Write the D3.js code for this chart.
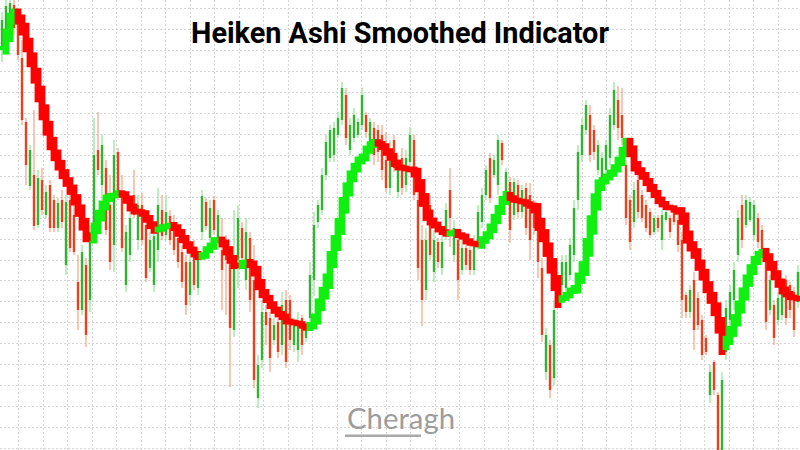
<!DOCTYPE html>
<html lang="en">
<head>
    <meta charset="UTF-8">
    <title>Heiken Ashi Smoothed Indicator</title>
    <style>
        body { margin: 0; background: #fff; }
        svg { display: block; }
        .grid line {
            stroke: #d6d6d6;
            stroke-dasharray: 2,2;
            shape-rendering: crispEdges;
        }
        .title {
            font-family: Roboto, "Liberation Sans", sans-serif;
            font-weight: bold;
            fill: #000;
            text-anchor: middle;
        }
        .mark {
            font-family: Lato, "Open Sans", sans-serif;
            fill: #9c9c9c;
            text-anchor: middle;
        }
    </style>
</head>
<body>
    <svg></svg>
    <script src="https://cdn.jsdelivr.net/npm/d3@7"></script>
    <script>
        // smoothed heiken ashi value per bar (price points)
        var haLine = [
            1202,1215,1230,1237,1230,1220,1205,1190,1174,1156,
            1138,1122,1107,1095,1085,1076,1068,1060,1050,1039,
            1026,1014,1012,1022,1034,1044,1051,1054,1055,1057,
            1055,1050,1043,1039,1038,1036,1031,1025,1020,1021,
            1023,1024,1025,1022,1017,1011,1005,1000,996,993,
            995,1000,1004,1009,1010,1006,999,991,985,984,
            987,988,985,978,966,957,951,945,940,936,
            933,929,928,927,926,924,922,925,932,945,
            957,970,990,1007,1024,1044,1060,1073,1082,1089,
            1093,1100,1105,1108,1106,1103,1098,1093,1087,1083,
            1082,1081,1080,1076,1064,1050,1036,1029,1025,1021,
            1018,1016,1017,1018,1015,1013,1009,1007,1006,1005,
            1010,1015,1022,1031,1040,1049,1055,1052,1050,1049,
            1048,1046,1044,1040,1026,1014,1000,984,967,950,
            952,955,959,962,972,983,1003,1025,1047,1063,
            1069,1073,1077,1082,1089,1098,1107,1098,1085,1079,
            1074,1068,1062,1056,1050,1046,1043,1042,1040,1038,
            1030,1014,1004,996,985,975,963,952,940,924,
            904,910,919,930,943,956,969,980,989,995,
            998,992,984,975,967,960,956,953,952,951
        ];

        // price candles
        var candleOpen = [
            1200,1218,1232,1245,1232,1192,1128,1064,1075,1025,
            1070,1035,1065,1050,1022,1050,985,1050,1035,968,
            940,985,950,1025,1100,1065,1082,1045,1005,1098,
            1054,965,995,1055,1010,1045,1025,982,965,1000,
            1040,1015,1034,1028,1012,998,988,955,1002,962,
            1018,1048,1012,1050,1010,1000,1005,988,920,990,
            1022,970,1012,970,852,890,938,932,910,928,
            905,950,950,905,900,932,912,932,970,1028,
            1040,1075,1092,1095,1115,1130,1155,1100,1112,1115,
            1125,1135,1100,1122,1120,1115,1090,1062,1110,1058,
            1092,1065,1088,1110,1050,1010,960,1045,978,1008,
            982,1015,1060,995,1010,980,1002,1000,980,1005,
            1028,1055,1092,1075,1065,1107,1050,1068,1035,1065,
            1038,1062,1055,1045,1035,982,878,905,872,945,
            965,962,975,995,1050,1095,1120,1135,1120,1080,
            1065,1080,1092,1125,1150,1135,1085,1050,1028,1070,
            1055,1045,1038,1018,1032,1010,1030,1032,1038,1030,
            1010,955,938,970,952,930,912,855,888,855,
            795,898,930,950,995,1045,1025,1030,1015,1032,
            1020,988,940,945,930,935,970,965,958,948
        ];
        var candleHigh = [
            1238,1250,1250,1250,1242,1210,1132,1105,1140,1080,
            1082,1065,1070,1055,1052,1060,1055,1055,1045,995,
            1005,992,1025,1132,1138,1115,1090,1075,1110,1102,
            1075,1025,1040,1080,1055,1057,1035,1018,1022,1062,
            1055,1055,1040,1035,1018,1005,995,1000,1010,1002,
            1060,1052,1050,1054,1040,1032,1015,992,1040,1045,
            1028,1032,1018,1005,895,950,945,938,932,932,
            958,960,955,932,938,935,928,988,1038,1050,
            1082,1115,1125,1128,1138,1168,1162,1132,1142,1132,
            1162,1138,1132,1128,1125,1125,1118,1110,1115,1095,
            1102,1100,1123,1115,1080,1025,1022,1055,1020,1012,
            1015,1047,1082,1030,1013,1010,1005,1005,1015,1045,
            1062,1085,1097,1095,1115,1110,1082,1073,1072,1070,
            1065,1067,1067,1050,1043,992,922,910,950,978,
            995,995,1012,1050,1105,1132,1150,1145,1125,1110,
            1098,1110,1142,1168,1164,1162,1090,1055,1068,1075,
            1060,1050,1042,1035,1035,1040,1042,1035,1040,1035,
            1018,958,965,978,958,935,915,885,890,858,
            878,950,965,988,1040,1055,1055,1053,1050,1037,
            1025,997,975,950,958,965,975,968,963,985
        ];
        var candleLow = [
            1188,1208,1225,1215,1190,1125,1065,1060,1020,1022,
            1035,1032,1018,1018,1018,1022,975,998,995,920,
            935,903,938,1010,1075,1050,1015,980,978,1050,
            998,958,988,1032,1000,1005,968,978,958,988,
            1010,1010,1005,995,982,962,935,945,960,955,
            1010,1020,1005,1015,1000,940,935,863,913,962,
            988,960,938,862,842,882,905,878,905,892,
            895,882,900,898,888,895,908,928,954,1022,
            1035,1070,1088,1088,1112,1125,1105,1095,1108,1112,
            1120,1112,1095,1085,1088,1070,1058,1055,1078,1052,
            1055,1058,1082,1050,970,924,950,990,968,982,
            975,1010,1003,988,950,975,980,975,975,1000,
            1022,1050,1047,1072,1055,1085,1045,1007,1030,1032,
            1032,1015,990,1015,972,908,870,852,865,942,
            955,958,970,988,1040,1088,1115,1088,1090,1075,
            1060,1075,1085,1120,1110,1105,1025,1000,1022,1032,
            1028,1018,1012,1015,1018,1000,1028,1012,1025,998,
            932,932,932,900,920,890,895,847,855,795,
            795,890,925,940,988,1002,1022,1028,1010,1002,
            988,920,935,905,925,930,925,932,913,942
        ];
        var candleClose = [
            1230,1244,1247,1222,1195,1130,1085,1100,1024,1072,
            1040,1058,1022,1022,1047,1028,1048,1002,998,940,
            998,915,1018,1095,1080,1105,1020,988,1095,1055,
            1002,1018,1032,1035,1045,1010,972,1010,1014,1045,
            1014,1038,1010,1000,988,968,945,988,965,995,
            1054,1024,1042,1020,1035,980,990,922,988,1032,
            992,1018,950,870,885,938,925,892,925,898,
            945,888,910,928,930,905,924,975,1025,1045,
            1075,1108,1120,1122,1132,1162,1112,1125,1135,1128,
            1155,1118,1128,1095,1098,1080,1062,1100,1082,1090,
            1062,1092,1115,1055,982,950,1010,995,1010,988,
            1008,1040,1032,1022,970,1002,985,980,1008,1038,
            1055,1080,1052,1090,1110,1090,1078,1020,1068,1038,
            1060,1022,1010,1022,988,915,915,860,940,972,
            988,988,1005,1042,1098,1125,1145,1095,1098,1105,
            1092,1105,1135,1160,1122,1112,1032,1008,1060,1038,
            1032,1022,1015,1032,1022,1035,1038,1018,1028,1005,
            950,938,960,920,925,895,898,878,860,795,
            870,942,958,980,1032,1010,1050,1048,1045,1008,
            992,928,970,912,952,960,932,940,920,978
        ];

        var title = 'Heiken Ashi Smoothed Indicator';
        var brand = 'Cheragh';

        var width = 800, height = 450;
        var svg = d3.select('svg')
            .attr('width', width)
            .attr('height', height);

        var xScale = d3.scaleLinear()
            .domain([0, haLine.length - 1])
            .range([2, 798]);

        var yScale = d3.scaleLinear()
            .domain([800, 1250])
            .range([450, 0]);

        // dashed grid
        var grid = svg.append('g').attr('class', 'grid');
        grid.selectAll('.v')
            .data(d3.range(0, 32))
            .enter()
            .append('line')
            .attr('x1', function (k) { return Math.round(18.3 + 24.5 * k) + 0.5; })
            .attr('x2', function (k) { return Math.round(18.3 + 24.5 * k) + 0.5; })
            .attr('y1', 0)
            .attr('y2', height);
        grid.selectAll('.h')
            .data(d3.range(0, 22))
            .enter()
            .append('line')
            .attr('y1', function (k) { return Math.round(8.4 + 20.93 * k) + 0.5; })
            .attr('y2', function (k) { return Math.round(8.4 + 20.93 * k) + 0.5; })
            .attr('x1', 0)
            .attr('x2', width);

        // candles
        var bars = d3.range(candleOpen.length);
        var up = function (i) { return candleClose[i] >= candleOpen[i]; };

        var candles = svg.append('g');
        candles.selectAll('.wick')
            .data(bars)
            .enter()
            .append('rect')
            .attr('x', function (i) { return xScale(i) - 0.6; })
            .attr('width', 1.2)
            .attr('y', function (i) { return yScale(candleHigh[i]); })
            .attr('height', function (i) { return yScale(candleLow[i]) - yScale(candleHigh[i]); })
            .attr('fill', function (i) { return up(i) ? '#93e393' : '#f5a283'; });

        candles.selectAll('.body')
            .data(bars)
            .enter()
            .append('rect')
            .attr('x', function (i) { return xScale(i) - 1.2; })
            .attr('width', 2.4)
            .attr('y', function (i) { return yScale(Math.max(candleOpen[i], candleClose[i])); })
            .attr('height', function (i) {
                return Math.max(1, Math.abs(yScale(candleOpen[i]) - yScale(candleClose[i])));
            })
            .attr('fill', function (i) { return up(i) ? '#2fb62f' : '#ec3f1a'; });

        // smoothed line drawn as thick blocks (body stretched around each step)
        var prev = function (i) { return i ? haLine[i - 1] : haLine[0]; };
        var rising = function (i) {
            return i ? haLine[i] > haLine[i - 1] : haLine[1] > haLine[0];
        };
        var step = function (i) { return Math.abs(yScale(prev(i)) - yScale(haLine[i])); };
        svg.append('g')
            .selectAll('rect')
            .data(bars)
            .enter()
            .append('rect')
            .attr('x', function (i) { return xScale(i) - 3.4; })
            .attr('width', 6.8)
            .attr('y', function (i) {
                return Math.min(yScale(prev(i)), yScale(haLine[i])) - 2 - step(i) * 0.35;
            })
            .attr('height', function (i) { return step(i) * 1.7 + 4; })
            .attr('fill', function (i) { return rising(i) ? '#10f010' : '#ff0000'; });

        // title
        var t = svg.append('text')
            .attr('class', 'title')
            .attr('x', 400)
            .attr('y', 43)
            .style('font-size', '28px')
            .text(title);
        var tw = t.node().getComputedTextLength();
        t.style('font-size', (28 * 418 / tw) + 'px');

        // watermark
        var m = svg.append('text')
            .attr('class', 'mark')
            .attr('x', 401)
            .attr('y', 429)
            .style('font-size', '22px')
            .text(brand);
        var mw = m.node().getComputedTextLength();
        m.style('font-size', (22 * 108 / mw) + 'px');
        svg.append('rect')
            .attr('x', 345)
            .attr('y', 434.5)
            .attr('width', 76)
            .attr('height', 2.5)
            .attr('fill', '#a8a8a8');
    </script>
</body>
</html>
